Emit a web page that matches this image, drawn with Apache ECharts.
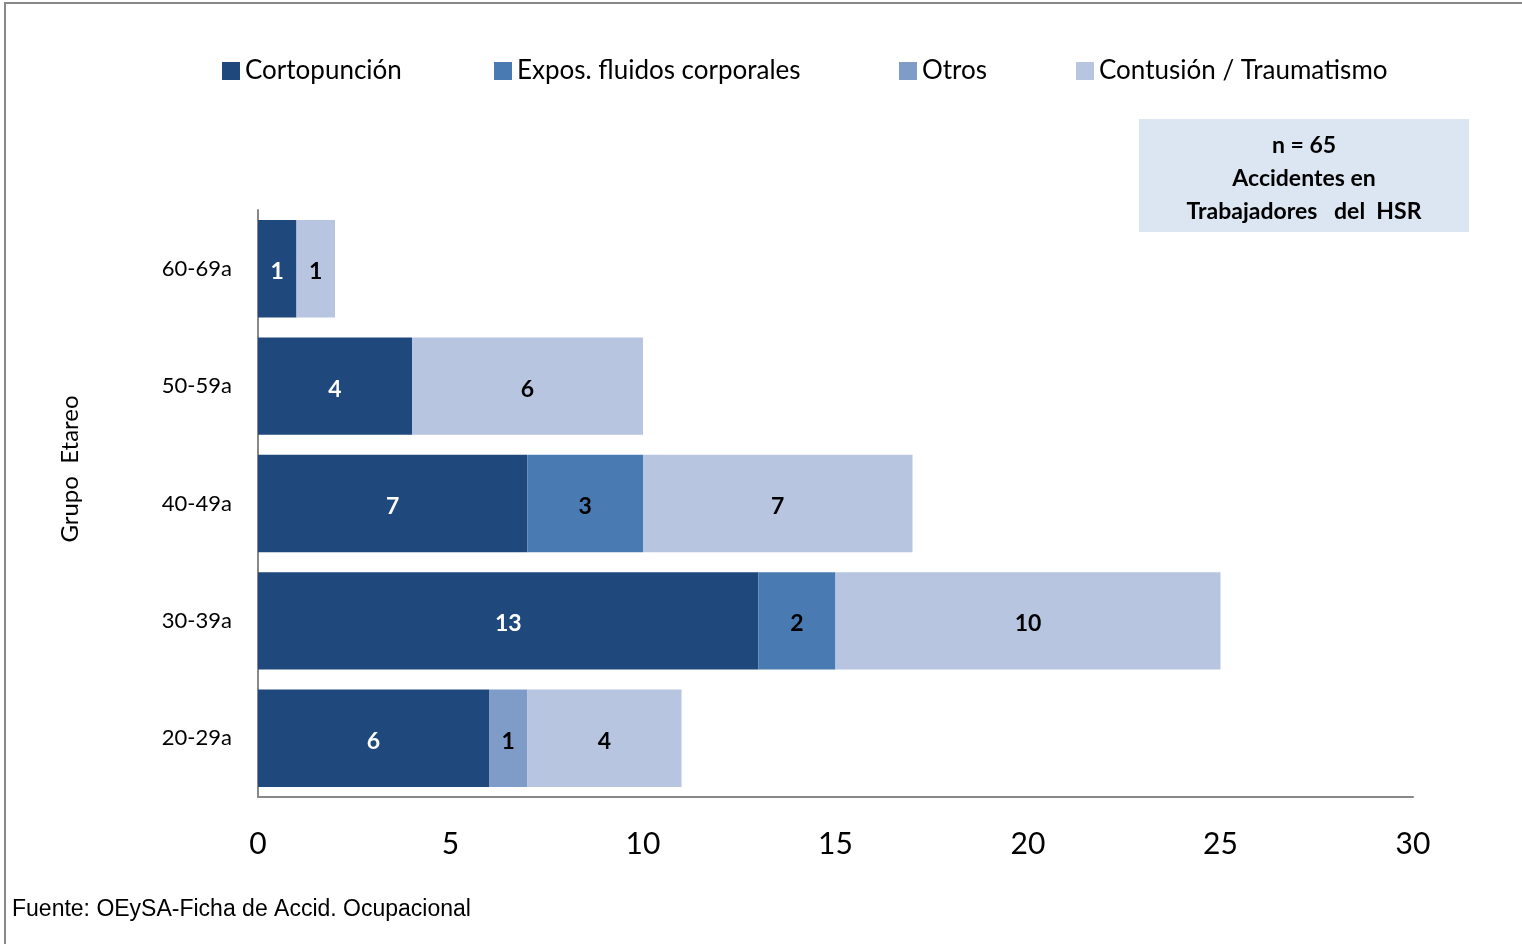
<!DOCTYPE html>
<html><head><meta charset="utf-8">
<script src="https://cdn.jsdelivr.net/npm/echarts@6/dist/echarts.min.js"></script>
<style>html,body{margin:0;padding:0;background:#fff}#c{width:1522px;height:944px}</style>
</head><body><div id="c"></div>
<script>
const categories = ['20-29a','30-39a','40-49a','50-59a','60-69a'];
const seriesNames = ['Cortopunción','Expos. fluidos corporales','Otros','Contusión / Traumatismo'];
const cortopuncion = [6,13,7,4,1];
const exposFluidos = [null,2,3,null,null];
const otros = [1,null,null,null,null];
const contusion = [4,10,7,6,1];
const xTicks = [0,5,10,15,20,25,30];
const colors = ['#1F497D','#4A7AB2','#7F9CC8','#B7C5E0'];
const labelColors = ['#ffffff','#000000','#000000','#000000'];
const values = [cortopuncion, exposFluidos, otros, contusion];
const FONT = 'Lato, "Open Sans", sans-serif';

const chart = echarts.init(document.getElementById('c'));
const legendX = [217, 489, 894, 1071];
chart.setOption({
  animation:false,
  backgroundColor:'#fff',
  legend: seriesNames.map((n,i)=>({
    data:[{name:n,icon:'rect'}], left:legendX[i], top:53, itemWidth:18, itemHeight:18, itemGap:6,
    textStyle:{fontFamily:FONT,fontSize:26,color:'#000'}
  })),
  grid:{left:258,right:109,top:210,bottom:147,containLabel:false},
  xAxis:{type:'value',min:0,max:30,interval:5,
    axisLine:{show:true,lineStyle:{color:'#888',width:2}},
    axisTick:{show:false},splitLine:{show:false},
    axisLabel:{fontFamily:FONT,fontSize:30,color:'#000',margin:32,formatter:v=>xTicks.includes(v)?String(v):''}},
  yAxis:{type:'category',data:categories,
    axisLine:{show:true,lineStyle:{color:'#888',width:2}},
    axisTick:{show:false},
    axisLabel:{fontFamily:FONT,fontSize:22,color:'#000',margin:26}},
  series: values.map((d,i)=>({
    name:seriesNames[i],type:'bar',stack:'t',data:d,barCategoryGap:'17%',
    itemStyle:{color:colors[i]},
    label:{show:true,position:'inside',fontFamily:FONT,fontSize:23,fontWeight:'bold',color:labelColors[i],offset:[0,3]}
  })),
  graphic:[
    {type:'rect',shape:{x:5,y:3,width:1530,height:960},style:{fill:null,stroke:'#888',lineWidth:2},silent:true},
    {type:'rect',shape:{x:1139,y:119,width:330,height:113},style:{fill:'#DCE6F2'}},
    {type:'text',x:1304,y:129,style:{text:'n = 65\nAccidentes en\nTrabajadores   del  HSR',align:'center',
      fontFamily:FONT,fontSize:23,fontWeight:'bold',lineHeight:33,fill:'#000'}},
    {type:'text',x:70,y:469,rotation:Math.PI/2,style:{text:'Grupo  Etareo',align:'center',verticalAlign:'middle',fontFamily:FONT,fontSize:24,fill:'#000'}},
    {type:'text',left:12,top:898,style:{text:'Fuente: OEySA-Ficha de Accid. Ocupacional',fontFamily:'"Liberation Sans", Arial, sans-serif',fontSize:23,fill:'#000'}}
  ]
});
</script></body></html>
